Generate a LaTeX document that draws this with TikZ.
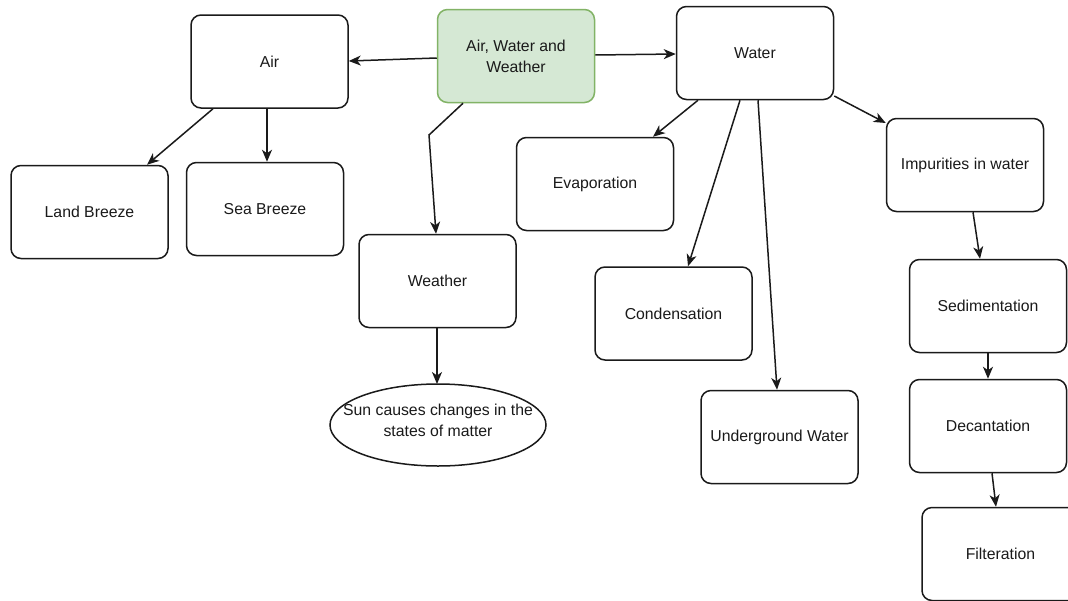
\documentclass[tikz,border=0pt]{standalone}
\usepackage{fontspec}
\setmainfont{Liberation Sans}
\usetikzlibrary{arrows.meta,shapes.geometric,calc}
\definecolor{gfill}{HTML}{D5E8D4}
\definecolor{gline}{HTML}{82B366}
\definecolor{ink}{HTML}{1A1A1A}
\begin{document}
\begin{tikzpicture}[x=1pt,y=-1pt,
  box/.style={draw=ink,line width=1.5pt,rounded corners=10pt,minimum width=157pt,minimum height=93pt,align=center,inner sep=2pt,font=\fontsize{15.8}{21}\selectfont,text=ink},
  ovaltext/.style={align=center,inner sep=0pt,font=\fontsize{15.8}{21}\selectfont,text=ink},
  arr/.style={draw=ink,line width=1.5pt,-{Stealth[length=12pt,width=10pt,inset=3.5pt]}}]
\useasboundingbox (0,0) rectangle (1068,600);
\clip (0,0) rectangle (1068,600);
\fill[white] (0,0) rectangle (1068,600);
\node[box,fill=gfill,draw=gline] (main) at (516,56) {Air, Water and\\Weather};
\node[box] (air) at (269.5,61.5) {Air};
\node[box] (water) at (755,53) {Water};
\node[box] (land) at (89.5,212) {Land Breeze};
\node[box] (sea) at (265,209) {Sea Breeze};
\node[box] (weather) at (437.5,281) {Weather};
\node[ovaltext] (sun) at (438,420) {Sun causes changes in the\\states of matter};
\draw[ink,line width=1.5pt] (438,425) ellipse [x radius=108, y radius=41];
\coordinate (suntop) at (437,384);
\node[box] (evap) at (595,184) {Evaporation};
\node[box] (cond) at (673.5,313.5) {Condensation};
\node[box] (under) at (779.5,437) {Underground Water};
\node[box] (imp) at (965,165) {Impurities in water};
\node[box] (sed) at (988,306) {Sedimentation};
\node[box] (dec) at (988,426) {Decantation};
\node[box] (filt) at (1000.5,554) {Filteration};
\coordinate (bend) at (429,135);
\draw[arr] (main.west |- 0,58) -- (air.east |- 0,61);
\draw[arr] (main.east |- 0,55) -- (water.west |- 0,54);
\draw[arr] ([xshift=-53pt]main.south) -- (bend) -- ([xshift=-1.5pt]weather.north);
\draw[arr] ([xshift=-56.5pt]air.south) -- ([xshift=57.5pt]land.north);
\draw[arr] ([xshift=-2.5pt]air.south) -- ([xshift=2pt]sea.north);
\draw[arr] ([xshift=-0.5pt]weather.south) -- (suntop);
\draw[arr] ([xshift=-57pt]water.south) -- ([xshift=58pt]evap.north);
\draw[arr] ([xshift=-15pt]water.south) -- ([xshift=14.5pt]cond.north);
\draw[arr] ([xshift=3pt]water.south) -- ([xshift=-2.5pt]under.north);
\draw[arr] (water.east |- 0,96) -- (imp.west |- 0,123);
\draw[arr] ([xshift=8pt]imp.south) -- ([xshift=-8pt]sed.north);
\draw[arr] (sed.south) -- (dec.north);
\draw[arr] ([xshift=4pt]dec.south) -- ([xshift=-4.5pt]filt.north);
\end{tikzpicture}
\end{document}
